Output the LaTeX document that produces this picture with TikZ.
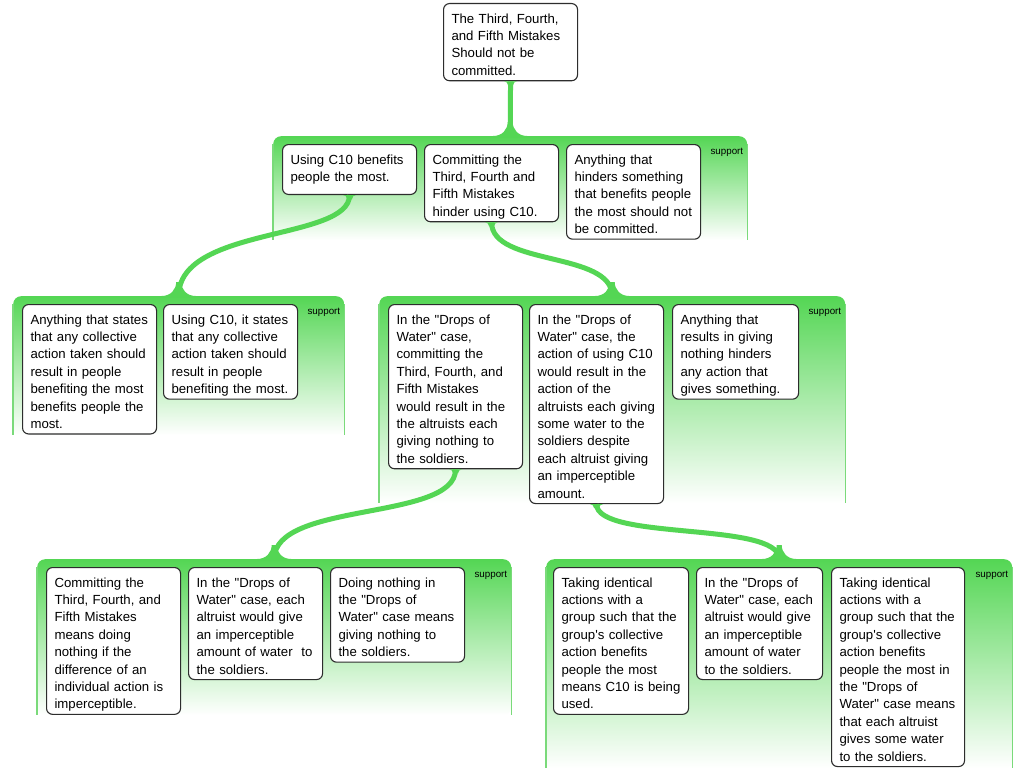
\documentclass[tikz,border=0pt]{standalone}
\usepackage{fontspec}
\newfontfamily\argfont{Liberation Sans}
\definecolor{argreen}{RGB}{84,214,84}
\definecolor{grside}{RGB}{122,218,122}
\definecolor{boxborder}{RGB}{45,45,45}
\begin{document}
\begin{tikzpicture}[x=1pt,y=-1pt,
  box/.style={draw=boxborder, line width=1.1pt, fill=white, rounded corners=6pt,
    anchor=north west, inner xsep=8pt, inner ysep=2pt, align=left,
    font=\argfont\fontsize{13.2}{17.4}\selectfont,
    execute at begin node={\rule{0pt}{17.5pt}},
    execute at end node={\rule[-3.5pt]{0pt}{0pt}}},
  grp/.style={anchor=north west, inner sep=0pt, rounded corners=8pt,
    top color=argreen, bottom color=white, draw=none},
  side/.style={draw=grside, line width=1.5pt},
  conn/.style={draw=argreen, line width=5pt},
  sup/.style={anchor=base east, inner sep=0pt, font=\argfont\fontsize{9.8}{12}\selectfont},
  bflare/.pic={\fill[argreen] (-17,1.5) -- (-17,0) .. controls (-8.2,0) and (-2.5,-6.3) .. (-2.5,-14) -- (2.5,-14) .. controls (2.5,-6.3) and (8.2,0) .. (17,0) -- (17,1.5) -- cycle;},
  tflare/.pic={\fill[argreen] (-6.5,0) .. controls (-4.3,0) and (-2.5,1.8) .. (-2.5,4) -- (2.5,4) .. controls (2.5,1.8) and (4.3,0) .. (6.5,0) -- cycle;}
]
\useasboundingbox[fill=white] (0,0) rectangle (1024,768);

% groups
\node[grp, minimum width=474pt, minimum height=104pt] (g1) at (273,136) {};
\node[grp, minimum width=331pt, minimum height=139pt] (g2l) at (13,296) {};
\node[grp, minimum width=466pt, minimum height=207pt] (g2r) at (379,296) {};
\node[grp, minimum width=474pt, minimum height=156pt] (g3l) at (37,559) {};
\node[grp, minimum width=466pt, minimum height=209pt] (g3r) at (546,559) {};
\foreach \g in {g1,g2l,g2r,g3l,g3r}{
  \draw[side] ([yshift=-8pt]\g.north west) -- (\g.south west);
  \draw[side] ([yshift=-8pt]\g.north east) -- (\g.south east);
}
\node[sup] (s1) at ([xshift=-4pt,yshift=-18.5pt]g1.north east) {support};
\node[sup] (s2) at ([xshift=-4pt,yshift=-18.5pt]g2l.north east) {support};
\node[sup] (s3) at ([xshift=-4pt,yshift=-18.5pt]g2r.north east) {support};
\node[sup] (s4) at ([xshift=-4pt,yshift=-18.5pt]g3l.north east) {support};
\node[sup] (s5) at ([xshift=-4pt,yshift=-18.5pt]g3r.north east) {support};

% boxes
\node[box, text width=118pt] (root) at (443,3) {The Third, Fourth,\\ and Fifth Mistakes\\ Should not be\\ committed.};

\node[box, text width=118pt] (b1) at (282,144) {Using C10 benefits\\ people the most.\rule[-11pt]{0pt}{0pt}};
\node[box, text width=118pt] (b2) at (424,144) {Committing the\\ Third, Fourth and\\ Fifth Mistakes\\ hinder using C10.};
\node[box, text width=118pt] (b3) at (566,144) {Anything that\\ hinders something\\ that benefits people\\ the most should not\\ be committed.};

\node[box, text width=118pt] (b4) at (22,304) {Anything that states\\ that any collective\\ action taken should\\ result in people\\ benefiting the most\\ benefits people the\\ most.};
\node[box, text width=118pt] (b5) at (163,304) {Using C10, it states\\ that any collective\\ action taken should\\ result in people\\ benefiting the most.};

\node[box, text width=118pt] (b6) at (388,304) {In the "Drops of\\ Water" case,\\ committing the\\ Third, Fourth, and\\ Fifth Mistakes\\ would result in the\\ the altruists each\\ giving nothing to\\ the soldiers.};
\node[box, text width=118pt] (b7) at (529,304) {In the "Drops of\\ Water" case, the\\ action of using C10\\ would result in the\\ action of the\\ altruists each giving\\ some water to the\\ soldiers despite\\ each altruist giving\\ an imperceptible\\ amount.};
\node[box, text width=110pt] (b8) at (672,304) {Anything that\\ results in giving\\ nothing hinders\\ any action that\\ gives something.};

\node[box, text width=118pt] (b9) at (46,567) {Committing the\\ Third, Fourth, and\\ Fifth Mistakes\\ means doing\\ nothing if the\\ difference of an\\ individual action is\\ imperceptible.};
\node[box, text width=118pt] (b10) at (188,567) {In the "Drops of\\ Water" case, each\\ altruist would give\\ an imperceptible\\ amount of water\ \ to\\ the soldiers.};
\node[box, text width=118pt] (b11) at (330,567) {Doing nothing in\\ the "Drops of\\ Water" case means\\ giving nothing to\\ the soldiers.};

\node[box, text width=119pt] (b12) at (553,567) {Taking identical\\ actions with a\\ group such that the\\ group's collective\\ action benefits\\ people the most\\ means C10 is being\\ used.};
\node[box, text width=110pt] (b13) at (696,567) {In the "Drops of\\ Water" case, each\\ altruist would give\\ an imperceptible\\ amount of water\\ to the soldiers.};
\node[box, text width=117pt] (b14) at (831,567) {Taking identical\\ actions with a\\ group such that the\\ group's collective\\ action benefits\\ people the most in\\ the "Drops of\\ Water" case means\\ that each altruist\\ gives some water\\ to the soldiers.};

% connectors
\draw[conn] (root.south) -- (g1.north);
\draw[conn] (b1.south) .. controls +(0,46) and +(0,-70) .. (g2l.north);
\draw[conn] (b2.south) .. controls +(0,44) and +(0,-45) .. (g2r.north);
\draw[conn] (b6.south) .. controls +(0,52) and +(0,-58) .. (g3l.north);
\draw[conn] (b7.south) .. controls +(0,37) and +(0,-38) .. (g3r.north);
\foreach \g in {g1,g2l,g2r,g3l,g3r}{ \pic at (\g.north) {bflare}; }
\foreach \b in {root,b1,b2,b6,b7}{ \pic at (\b.south) {tflare}; }
\end{tikzpicture}
\end{document}
